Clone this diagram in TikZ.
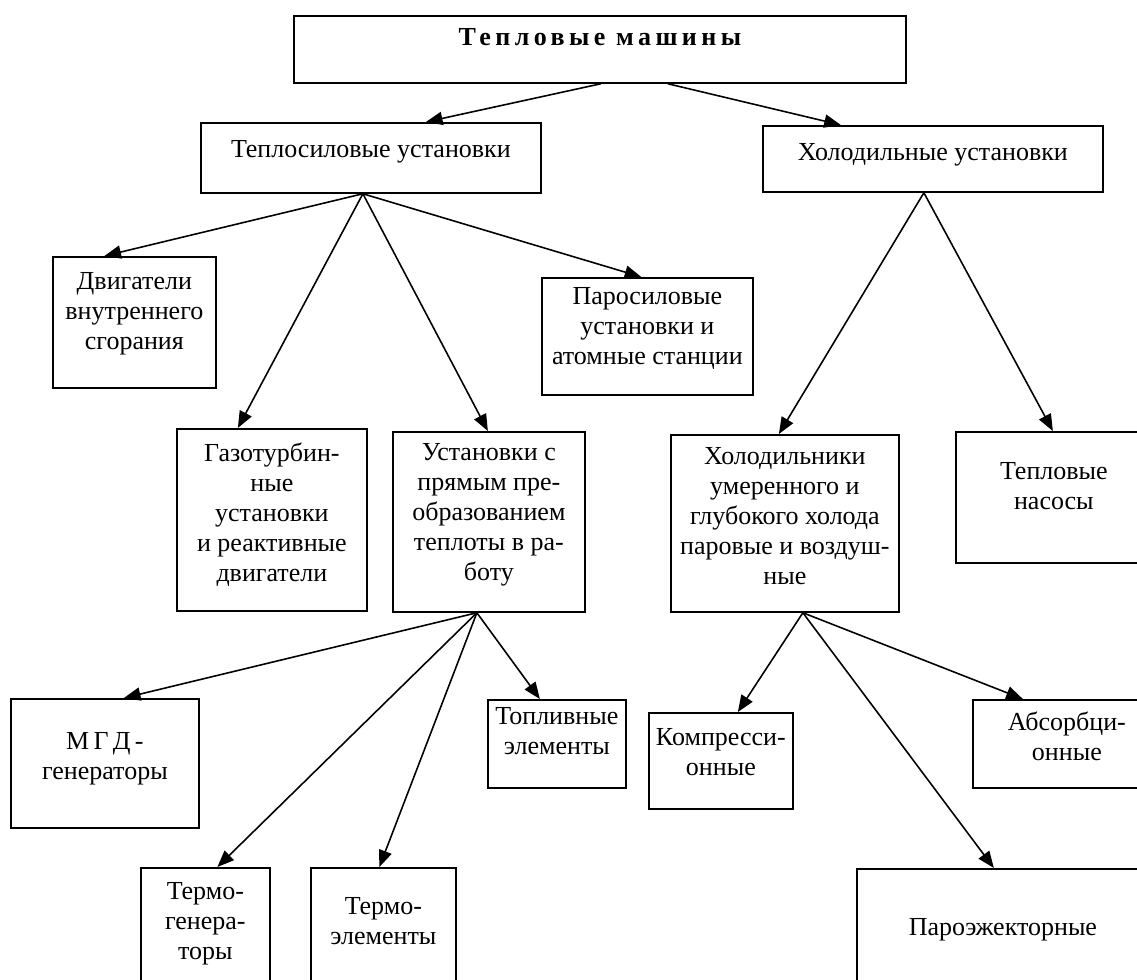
\documentclass[tikz,border=0pt]{standalone}
\usepackage{fontspec}
\setmainfont{Liberation Serif}
\usetikzlibrary{positioning, arrows.meta}

\def\px{0.02cm}
\tikzset{
  block/.style={draw, line width=1pt, anchor=north west, inner sep=0pt},
  caption/.style={anchor=north, align=center, inner sep=0pt, font=\fontsize{14.8}{17.07}\selectfont},
}

\begin{document}
\begin{tikzpicture}[x=\px, y=-\px, >={Triangle[length=9.5pt, width=7.5pt]}, line width=0.9pt]
  \clip (0,0) rectangle (1137,980);

  % root
  \node[block, minimum width=612*\px, minimum height=67*\px] (mash) at (293,15) {};
  \node[caption, font=\fontsize{14.8}{17.07}\selectfont\bfseries\addfontfeature{LetterSpace=17}, below=0.26cm of mash.north] (mash-t) {Тепловые машины};

  % second level
  \node[block, minimum width=340*\px, minimum height=70*\px] (teplo) at (200,122) {};
  \node[caption, below=0.36cm of teplo.north] (teplo-t) {Теплосиловые установки};
  \node[block, minimum width=340*\px, minimum height=66*\px] (holod) at (762,125) {};
  \node[caption, below=0.36cm of holod.north] (holod-t) {Холодильные установки};

  % heat engines
  \node[block, minimum width=163*\px, minimum height=131*\px] (dvig) at (52,256) {};
  \node[caption, below=0.32cm of dvig.north] (dvig-t) {Двигатели\\внутреннего\\сгорания};
  \node[block, minimum width=190*\px, minimum height=182*\px] (gaz) at (176,428) {};
  \node[caption, below=0.28cm of gaz.north] (gaz-t) {Газотурбин-\\ные\\установки\\и реактивные\\двигатели};
  \node[block, minimum width=192*\px, minimum height=180*\px] (ustan) at (392,431) {};
  \node[caption, below=0.24cm of ustan.north] (ustan-t) {Установки с\\прямым пре-\\образованием\\теплоты в ра-\\боту};
  \node[block, minimum width=211*\px, minimum height=117*\px] (paro) at (541,277) {};
  \node[caption, below=0.2cm of paro.north] (paro-t) {Паросиловые\\установки и\\атомные станции};

  % refrigerators
  \node[block, minimum width=228*\px, minimum height=177*\px] (holodil) at (670,434) {};
  \node[caption, below=0.26cm of holodil.north] (holodil-t) {Холодильники\\умеренного и\\глубокого холода\\паровые и воздуш-\\ные};
  \node[block, minimum width=196*\px, minimum height=131*\px] (nasos) at (955,431) {};
  \node[caption, below=0.62cm of nasos.north] (nasos-t) {Тепловые\\насосы};

  % direct conversion
  \node[block, minimum width=188*\px, minimum height=129*\px] (mgd) at (10,698) {};
  \node[caption, below=0.68cm of mgd.north] (mgd-t) {М\,Г\,Д\,-\\генераторы};
  \node[block, minimum width=138*\px, minimum height=88*\px] (topl) at (487,699) {};
  \node[caption, below=0.16cm of topl.north] (topl-t) {Топливные\\элементы};
  \node[block, minimum width=129*\px, minimum height=140*\px] (tgen) at (140,867) {};
  \node[caption, below=0.3cm of tgen.north] (tgen-t) {Термо-\\генера-\\торы};
  \node[block, minimum width=145*\px, minimum height=140*\px] (tel) at (310,867) {};
  \node[caption, below=0.6cm of tel.north] (tel-t) {Термо-\\элементы};

  % refrigerator kinds
  \node[block, minimum width=144*\px, minimum height=96*\px] (kompr) at (648,712) {};
  \node[caption, below=0.32cm of kompr.north] (kompr-t) {Компресси-\\онные};
  \node[block, minimum width=188*\px, minimum height=88*\px] (absorb) at (972,699) {};
  \node[caption, below=0.24cm of absorb.north] (absorb-t) {Абсорбци-\\онные};
  \node[block, minimum width=292*\px, minimum height=140*\px] (parej) at (856,868) {};
  \node[caption, below=1cm of parej.north] (parej-t) {Пароэжекторные};

  \draw[->] ([xshift=1*\px]mash.south) -- ([xshift=55*\px]teplo.north);
  \draw[->] ([xshift=68*\px]mash.south) -- ([xshift=-92*\px]holod.north);

  \draw[->] ([xshift=-8*\px]teplo.south) -- ([xshift=-30*\px]dvig.north);
  \draw[->] ([xshift=-8*\px]teplo.south) -- ([xshift=-34*\px]gaz.north);
  \draw[->] ([xshift=-8*\px]teplo.south) -- ([xshift=-1*\px]ustan.north);
  \draw[->] ([xshift=-8*\px]teplo.south) -- ([xshift=-6*\px]paro.north);

  \draw[->] ([xshift=-9*\px]holod.south) -- ([xshift=-6*\px]holodil.north);
  \draw[->] ([xshift=-9*\px]holod.south) -- ([xshift=-1*\px]nasos.north);

  \draw[->] ([xshift=-12*\px]ustan.south) -- ([xshift=19*\px]mgd.north);
  \draw[->] ([xshift=-12*\px]ustan.south) -- ([xshift=12*\px]tgen.north);
  \draw[->] ([xshift=-12*\px]ustan.south) -- ([xshift=-4*\px]tel.north);
  \draw[->] ([xshift=-12*\px]ustan.south) -- ([xshift=-17*\px]topl.north);

  \draw[->] ([xshift=18*\px]holodil.south) -- ([xshift=17*\px]kompr.north);
  \draw[->] ([xshift=18*\px]holodil.south) -- ([xshift=-9*\px]parej.north);
  \draw[->] ([xshift=18*\px]holodil.south) -- ([xshift=-44*\px]absorb.north);
\end{tikzpicture}
\end{document}
